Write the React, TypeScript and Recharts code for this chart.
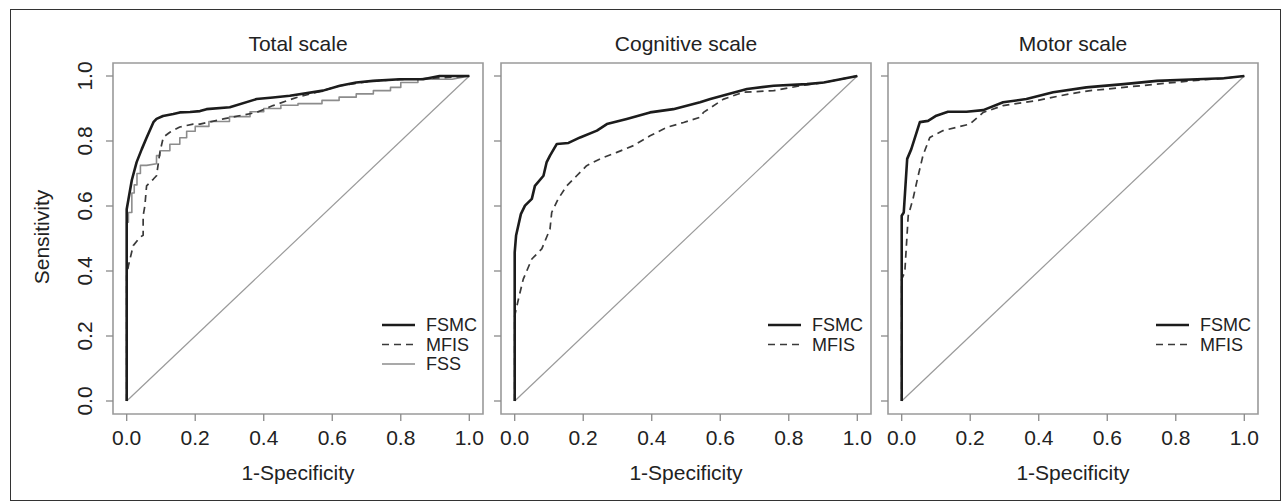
import React from 'react';
import { LineChart, Line, XAxis, YAxis, ReferenceArea, Legend } from 'recharts';

// ---------- data ----------
const axisTicks = [0, 0.2, 0.4, 0.6, 0.8, 1.0];
const panelTitles = ['Total scale', 'Cognitive scale', 'Motor scale'];
const xAxisLabel = '1-Specificity';
const yAxisLabel = 'Sensitivity';

const diagonal: [number, number][] = [[0, 0], [1, 1]];

const totalFSMC: [number, number][] = [
  [0, 0], [0, 0.59], [0.005, 0.62], [0.015, 0.68], [0.029, 0.735], [0.044, 0.775], [0.058, 0.81],
  [0.078, 0.858], [0.087, 0.868], [0.106, 0.877], [0.136, 0.883], [0.155, 0.888], [0.185, 0.889],
  [0.214, 0.892], [0.233, 0.898], [0.301, 0.904], [0.379, 0.929], [0.427, 0.934], [0.476, 0.939],
  [0.573, 0.955], [0.622, 0.97], [0.67, 0.98], [0.719, 0.985], [0.797, 0.99], [0.865, 0.99],
  [0.913, 1.0], [1, 1],
];
const totalMFIS: [number, number][] = [
  [0, 0], [0, 0.385], [0.005, 0.416], [0.019, 0.478], [0.039, 0.504], [0.048, 0.51], [0.048, 0.57],
  [0.053, 0.6], [0.058, 0.662], [0.078, 0.683], [0.087, 0.693], [0.097, 0.766], [0.107, 0.812],
  [0.126, 0.827], [0.155, 0.843], [0.194, 0.852], [0.214, 0.852], [0.282, 0.868], [0.379, 0.888],
  [0.427, 0.909], [0.496, 0.934], [0.573, 0.955], [0.622, 0.97], [0.719, 0.985], [0.816, 0.99],
  [0.894, 0.993], [1, 1],
];
const totalFSS: [number, number][] = [
  [0, 0], [0, 0.55], [0.005, 0.55], [0.005, 0.58], [0.015, 0.58], [0.015, 0.64], [0.022, 0.64],
  [0.022, 0.665], [0.03, 0.665], [0.03, 0.7], [0.04, 0.7], [0.04, 0.725], [0.058, 0.725],
  [0.087, 0.73], [0.087, 0.755], [0.097, 0.755], [0.097, 0.77], [0.126, 0.77], [0.126, 0.79],
  [0.155, 0.79], [0.155, 0.81], [0.175, 0.81], [0.175, 0.83], [0.2, 0.83], [0.2, 0.845],
  [0.24, 0.845], [0.24, 0.86], [0.3, 0.86], [0.3, 0.875], [0.36, 0.875], [0.36, 0.89], [0.4, 0.89],
  [0.4, 0.9], [0.45, 0.9], [0.45, 0.91], [0.5, 0.91], [0.5, 0.915], [0.57, 0.915], [0.57, 0.925],
  [0.62, 0.925], [0.62, 0.935], [0.67, 0.935], [0.67, 0.945], [0.72, 0.945], [0.72, 0.955],
  [0.77, 0.955], [0.77, 0.965], [0.8, 0.965], [0.8, 0.98], [0.85, 0.98], [0.85, 0.99], [0.95, 0.99],
  [1, 1],
];

const cognitiveFSMC: [number, number][] = [
  [0, 0], [0, 0.457], [0.004, 0.509], [0.018, 0.575], [0.03, 0.601], [0.05, 0.622], [0.059, 0.662],
  [0.084, 0.693], [0.093, 0.734], [0.103, 0.755], [0.123, 0.791], [0.157, 0.794], [0.191, 0.811],
  [0.24, 0.832], [0.269, 0.852], [0.327, 0.868], [0.395, 0.888], [0.463, 0.898], [0.541, 0.919],
  [0.571, 0.929], [0.678, 0.96], [0.756, 0.97], [0.853, 0.975], [0.902, 0.98], [1, 1],
];
const cognitiveMFIS: [number, number][] = [
  [0, 0], [0, 0.262], [0.011, 0.314], [0.025, 0.375], [0.05, 0.437], [0.079, 0.468], [0.103, 0.529],
  [0.108, 0.58], [0.127, 0.622], [0.152, 0.662], [0.181, 0.693], [0.21, 0.724], [0.249, 0.745],
  [0.298, 0.765], [0.347, 0.786], [0.395, 0.816], [0.444, 0.842], [0.493, 0.857], [0.541, 0.873],
  [0.551, 0.888], [0.61, 0.929], [0.668, 0.95], [0.756, 0.955], [0.834, 0.97], [0.902, 0.98], [1, 1],
];

const motorFSMC: [number, number][] = [
  [0, 0], [0, 0.57], [0.006, 0.58], [0.016, 0.745], [0.028, 0.775], [0.053, 0.858], [0.077, 0.862],
  [0.101, 0.878], [0.135, 0.89], [0.189, 0.89], [0.238, 0.895], [0.296, 0.919], [0.364, 0.929],
  [0.442, 0.95], [0.539, 0.965], [0.648, 0.975], [0.745, 0.985], [0.862, 0.99], [0.94, 0.993], [1, 1],
];
const motorMFIS: [number, number][] = [
  [0, 0], [0, 0.375], [0.009, 0.396], [0.019, 0.57], [0.033, 0.622], [0.048, 0.693], [0.062, 0.755],
  [0.082, 0.811], [0.121, 0.832], [0.199, 0.852], [0.238, 0.888], [0.296, 0.909], [0.393, 0.924],
  [0.49, 0.945], [0.551, 0.955], [0.648, 0.965], [0.745, 0.975], [0.842, 0.985], [0.94, 0.993], [1, 1],
];

// ---------- styles ----------
const W = 1284;
const H = 502;
const FONT = '"Liberation Sans", Arial, Helvetica, sans-serif';
const TEXT = '#222';
const BOX_TOP = 63;
const BOX_BOTTOM = 414;
const X_AXIS_H = 30;
const Y_AXIS_W = 30;
const boxes = [
  { l: 113, r: 483, legendLeft: 381.5 },
  { l: 501, r: 871, legendLeft: 768 },
  { l: 888, r: 1258, legendLeft: 1156 },
];

type SeriesStyle = { name: string; color: string; width: number; dash?: string };
const FSMC_STYLE: SeriesStyle = { name: 'FSMC', color: '#1c1c1c', width: 2.6 };
const MFIS_STYLE: SeriesStyle = { name: 'MFIS', color: '#3a3a3a', width: 1.7, dash: '7 5' };
const FSS_STYLE: SeriesStyle = { name: 'FSS', color: '#8c8c8c', width: 1.6 };

const toPts = (a: [number, number][]) => a.map(([x, y]) => ({ x, y }));

const panels: { series: { style: SeriesStyle; data: [number, number][] }[] }[] = [
  { series: [{ style: FSS_STYLE, data: totalFSS }, { style: MFIS_STYLE, data: totalMFIS }, { style: FSMC_STYLE, data: totalFSMC }] },
  { series: [{ style: MFIS_STYLE, data: cognitiveMFIS }, { style: FSMC_STYLE, data: cognitiveFSMC }] },
  { series: [{ style: MFIS_STYLE, data: motorMFIS }, { style: FSMC_STYLE, data: motorFSMC }] },
];
const legendOrders: SeriesStyle[][] = [
  [FSMC_STYLE, MFIS_STYLE, FSS_STYLE],
  [FSMC_STYLE, MFIS_STYLE],
  [FSMC_STYLE, MFIS_STYLE],
];

const YTick = (props: any) => {
  const { x, y, payload } = props;
  return (
    <text
      x={x}
      y={y}
      transform={`rotate(-90 ${x} ${y})`}
      textAnchor="middle"
      fill={TEXT}
      fontSize={21}
      fontFamily={FONT}
    >
      {Number(payload.value).toFixed(1)}
    </text>
  );
};
const EmptyTick = () => <g />;

const ROW = 19.5;
const makeLegend = (items: SeriesStyle[]) => () => (
  <svg width={110} height={items.length * ROW + 6} style={{ display: 'block' }}>
    {items.map((it, i) => {
      const cy = 10 + i * ROW;
      return (
        <g key={it.name}>
          <line x1={0} x2={33} y1={cy} y2={cy} stroke={it.color} strokeWidth={it.width} strokeDasharray={it.dash} />
          <text x={44} y={cy + 6.3} fontSize={18} fontFamily={FONT} fill={TEXT}>
            {it.name}
          </text>
        </g>
      );
    })}
  </svg>
);

function Panel({ index }: { index: number }) {
  const box = boxes[index];
  const panel = panels[index];
  return (
    <div style={{ position: 'absolute', left: 0, top: 0, width: W, height: H }}>
      <LineChart
        width={W}
        height={H}
        margin={{ top: BOX_TOP, bottom: H - BOX_BOTTOM - X_AXIS_H, left: box.l - Y_AXIS_W, right: W - box.r }}
      >
        <XAxis
          type="number"
          dataKey="x"
          domain={[-0.04, 1.04]}
          ticks={axisTicks}
          allowDataOverflow
          interval={0}
          axisLine={false}
          tickSize={7}
          tickMargin={9}
          height={X_AXIS_H}
          tickLine={{ stroke: '#8a8a8a', strokeWidth: 1.3 }}
          tick={{ fill: TEXT, fontSize: 21, fontFamily: FONT }}
          tickFormatter={(v: number) => v.toFixed(1)}
        />
        <YAxis
          type="number"
          domain={[-0.04, 1.04]}
          ticks={axisTicks}
          allowDataOverflow
          interval={0}
          axisLine={false}
          tickSize={7}
          tickMargin={14}
          width={Y_AXIS_W}
          tickLine={{ stroke: '#8a8a8a', strokeWidth: 1.3 }}
          tick={index === 0 ? YTick : EmptyTick}
        />
        <ReferenceArea x1={-0.04} x2={1.04} y1={-0.04} y2={1.04} fill="none" stroke="#9a9a9a" strokeWidth={1.6} ifOverflow="visible" />
        <Line
          data={toPts(diagonal)}
          dataKey="y"
          type="linear"
          stroke="#9a9a9a"
          strokeWidth={1.2}
          dot={false}
          activeDot={false}
          legendType="none"
          isAnimationActive={false}
        />
        {panel.series.map((s) => (
          <Line
            key={s.style.name}
            data={toPts(s.data)}
            dataKey="y"
            name={s.style.name}
            type="linear"
            stroke={s.style.color}
            strokeWidth={s.style.width}
            strokeDasharray={s.style.dash}
            strokeLinejoin="round"
            dot={false}
            activeDot={false}
            isAnimationActive={false}
          />
        ))}
        <Legend
          layout="horizontal"
          verticalAlign="middle"
          align="center"
          content={makeLegend(legendOrders[index])}
          wrapperStyle={{ left: box.legendLeft, top: 314.5, width: 110, height: 70 }}
        />
      </LineChart>
    </div>
  );
}

export default function App() {
  return (
    <div style={{ position: 'absolute', left: 0, top: 0, width: W, height: H, background: '#fff', overflow: 'hidden' }}>
      <svg width={W} height={H} style={{ position: 'absolute', left: 0, top: 0 }}>
        <rect x={10.5} y={9.5} width={1270} height={491} fill="none" stroke="#333" strokeWidth={1} />
        {boxes.map((b, i) => (
          <g key={i}>
            <text x={(b.l + b.r) / 2} y={51} textAnchor="middle" fontSize={21} fontFamily={FONT} fill={TEXT}>
              {panelTitles[i]}
            </text>
            <text x={(b.l + b.r) / 2} y={480} textAnchor="middle" fontSize={21} fontFamily={FONT} fill={TEXT}>
              {xAxisLabel}
            </text>
          </g>
        ))}
        <text x={49} y={237} transform="rotate(-90 49 237)" textAnchor="middle" fontSize={21} fontFamily={FONT} fill={TEXT}>
          {yAxisLabel}
        </text>
      </svg>
      <Panel index={0} />
      <Panel index={1} />
      <Panel index={2} />
    </div>
  );
}
